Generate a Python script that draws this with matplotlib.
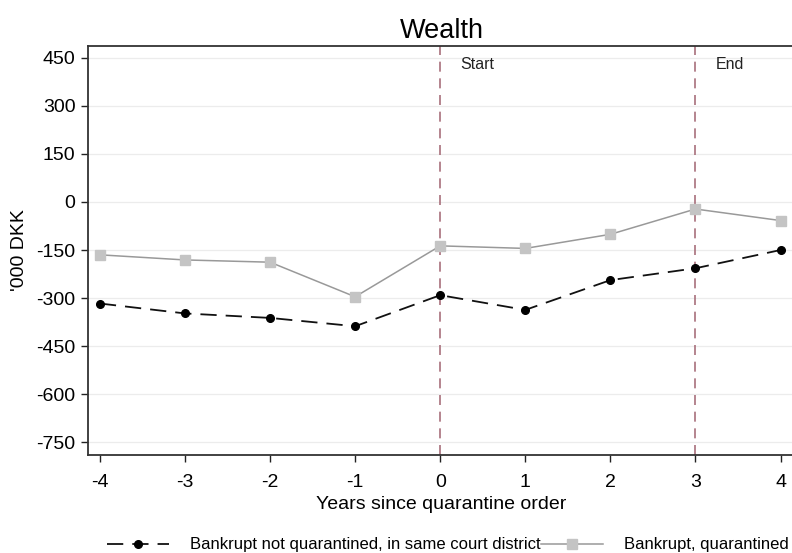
import matplotlib
matplotlib.use("Agg")
import matplotlib.pyplot as plt

plt.rcParams['font.family'] = ['Liberation Sans', 'DejaVu Sans']
plt.rcParams['axes.unicode_minus'] = False

years = [-4, -3, -2, -1, 0, 1, 2, 3, 4]
not_quarantined = [-317, -348, -362, -388, -291, -337, -244, -207, -150]
quarantined = [-165, -181, -188, -296, -137, -145, -101, -22, -58]
y_ticks = [450, 300, 150, 0, -150, -300, -450, -600, -750]
event_years = [0, 3]
event_labels = ["Start", "End"]

W, H = 792, 553
fig = plt.figure(figsize=(W / 100, H / 100), dpi=100)
ax = fig.add_axes([88 / W, 1 - 455 / H, (795 - 88) / W, (455 - 46) / H])

ax.set_xlim(-4.14, 4.17)
ax.set_ylim(-790, 487)

for yv in y_ticks:
    ax.axhline(yv, color='#ececec', lw=0.9, zorder=0)

for xv, lab in zip(event_years, event_labels):
    ax.axvline(xv, color='#a8707c', lw=1.2, ls=(0, (6, 4)), zorder=1)
    ax.text(xv + 0.24, 430, lab, fontsize=11.5, ha='left', va='center', color='#222222')

l1, = ax.plot(years, not_quarantined, color='#111111', lw=1.3, ls=(0, (9, 5)),
              marker='o', ms=5.5, mfc='black', mec='black', zorder=3,
              label='Bankrupt not quarantined, in same court district')
l2, = ax.plot(years, quarantined, color='#999999', lw=1.1, ls='-',
              marker='s', ms=7, mfc='#c4c4c4', mec='#c4c4c4', zorder=3,
              label='Bankrupt, quarantined')

ax.set_yticks(y_ticks)
ax.set_xticks(years)
ax.set_xticklabels([str(v) for v in years])
ax.tick_params(axis='both', labelsize=14, length=5, width=1, colors='#222222', labelcolor='black')
ax.tick_params(axis='y', pad=4)
ax.tick_params(axis='x', pad=9)

for side in ['left', 'bottom', 'top']:
    ax.spines[side].set_linewidth(1.3)
    ax.spines[side].set_color('#333333')
ax.spines['right'].set_visible(False)

ax.set_title('Wealth', fontsize=19.5, pad=6)
ax.set_xlabel('Years since quarantine order', fontsize=14, labelpad=3)
ax.set_ylabel("'000 DKK", fontsize=14, labelpad=6)

fig.legend(handles=[l1, l2], loc='center', bbox_to_anchor=(448 / W, 1 - 545 / H),
           ncol=2, frameon=False, fontsize=12, handlelength=3.7, columnspacing=0.0,
           handletextpad=1.3, borderaxespad=0)

fig.savefig('out.png', dpi=100, facecolor='white')
